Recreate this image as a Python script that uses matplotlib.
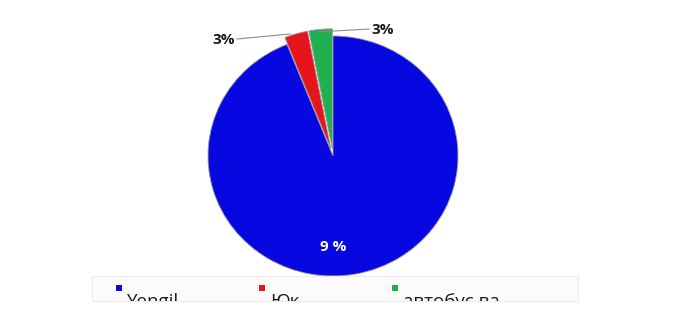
import matplotlib.pyplot as plt
from matplotlib.patches import Rectangle

# data
categories = ['Yengil', 'Юк', 'автобус ва']
shares = [94, 3, 3]
colors = ['#0707e2', '#e8141c', '#1fb050']
explode = [0, 0.06, 0.06]

W, H = 674, 317
fig = plt.figure(figsize=(W / 100, H / 100), dpi=100)
fig.patch.set_facecolor('white')

# pie axes placed in pixel terms (centre ~ 333,155)
left, top, pw, ph = 208, 36, 250, 240
ax = fig.add_axes([left / W, 1 - (top + ph) / H, pw / W, ph / H])
wedges, _ = ax.pie(shares, colors=colors, startangle=90, counterclock=False,
                   explode=explode, radius=1,
                   wedgeprops=dict(edgecolor='#9a9a9a', linewidth=0.6))
for w in wedges:
    w.set_clip_on(False)
ax.set_aspect('auto')
ax.set_xlim(-1, 1)
ax.set_ylim(-1, 1)
ax.axis('off')

# percentage labels
fig.text(333 / W, 1 - 247 / H, '9 %', color='white', fontsize=11,
         ha='center', va='center', family='Open Sans', fontweight='bold')
fig.text(224 / W, 1 - 40 / H, '3%', color='#1a1a1a', fontsize=11,
         ha='center', va='center', family='Open Sans', fontweight='bold')
fig.text(383 / W, 1 - 30 / H, '3%', color='#1a1a1a', fontsize=11,
         ha='center', va='center', family='Open Sans', fontweight='bold')

# leader lines
fig.add_artist(plt.Line2D([237 / W, 290 / W], [1 - 39 / H, 1 - 34 / H],
                          color='#8c8c8c', lw=0.8))
fig.add_artist(plt.Line2D([369 / W, 318 / W], [1 - 29 / H, 1 - 32 / H],
                          color='#8c8c8c', lw=0.8))

# legend strip, cut off at the bottom like the original
box = Rectangle((92 / W, 1 - 301 / H), (578 - 92) / W, 25 / H,
                transform=fig.transFigure, facecolor='#fbfbfb',
                edgecolor='#ececec', lw=0.8)
fig.add_artist(box)
marker_x = [119, 262, 395]
for name, c, mx in zip(categories, colors, marker_x):
    fig.add_artist(Rectangle(((mx - 3) / W, 1 - 291 / H), 6 / W, 6 / H,
                             transform=fig.transFigure, facecolor=c,
                             edgecolor='none'))
    t = fig.text((mx + 8) / W, 1 - 307 / H, name, fontsize=13.5,
                 family='Open Sans', color='#1a1a1a', va='baseline')
    t.set_clip_on(True)
    t.set_clip_path(box)

fig.savefig('out.png', dpi=100)
